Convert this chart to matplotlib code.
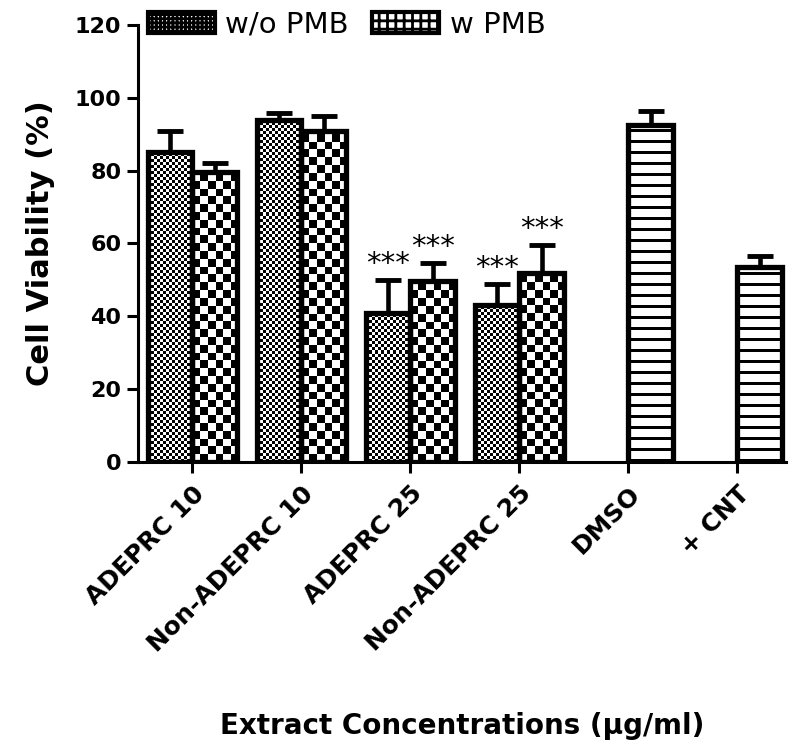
import numpy as np
import matplotlib
matplotlib.use("Agg")
import matplotlib.pyplot as plt
from matplotlib.patches import Patch

categories = ['ADEPRC 10', 'Non-ADEPRC 10', 'ADEPRC 25', 'Non-ADEPRC 25', 'DMSO', '+ CNT']
wo_mean = [85.0, 94.0, 41.0, 43.0]
wo_err = [6.0, 1.8, 9.0, 6.0]
w_mean = [79.5, 91.0, 49.7, 52.0]
w_err = [2.5, 4.0, 5.0, 7.5]
ctrl_mean = [92.5, 53.5]
ctrl_err = [4.0, 3.0]
star_groups = [2, 3]
star_text = '***'

plt.rcParams['font.family'] = 'DejaVu Sans'

fig = plt.figure(figsize=(8, 7.48), dpi=100)
ax = fig.add_axes([0.1725, 0.3824, 0.8105, 0.5842])
ax.set_xlim(-0.5, 5.45)
ax.set_ylim(0, 120)

bw = 0.41
x = np.arange(len(categories))
x_wo = x[:4] - bw / 2
x_w = x[:4] + bw / 2
x_ctrl = x[4:] + bw / 2

edge_lw = 3.8
bars_wo = ax.bar(x_wo, wo_mean, bw, facecolor='none', edgecolor='black', linewidth=edge_lw, zorder=3)
bars_w = ax.bar(x_w, w_mean, bw, facecolor='none', edgecolor='black', linewidth=edge_lw, zorder=3)
bars_c = ax.bar(x_ctrl, ctrl_mean, bw, facecolor='none', edgecolor='black', linewidth=edge_lw, zorder=3)

err_kw = dict(fmt='none', ecolor='black', elinewidth=3.3, capsize=9.5, capthick=3.5, zorder=2)
ax.errorbar(x_wo, wo_mean, yerr=[np.zeros(4), wo_err], **err_kw)
ax.errorbar(x_w, w_mean, yerr=[np.zeros(4), w_err], **err_kw)
ax.errorbar(x_ctrl, ctrl_mean, yerr=[np.zeros(2), ctrl_err], **err_kw)

# pixel scale for the textures
fig.canvas.draw()
p0 = ax.transData.transform((0, 0))
p1 = ax.transData.transform((1, 1))
px_x = p1[0] - p0[0]
px_y = p1[1] - p0[1]


def texture(bar, kind):
    x0, y0 = bar.get_x(), bar.get_y()
    w, h = bar.get_width(), bar.get_height()
    if kind == 'stripes':
        ny = int(np.ceil(h * px_y)) + 1
        rows = np.arange(ny)
        arr = ((rows % 11) < 3).astype(float)[:, None]
        ext = [x0, x0 + w, y0, y0 + ny / px_y]
    else:
        cell = 3.0 if kind == 'fine' else 7.8
        nx = int(np.ceil(w * px_x / cell)) + 1
        ny = int(np.ceil(h * px_y / cell)) + 1
        i, j = np.mgrid[0:ny, 0:nx]
        arr = ((i + j) % 2).astype(float)
        ext = [x0, x0 + nx * cell / px_x, y0, y0 + ny * cell / px_y]
    im = ax.imshow(arr, cmap='gray_r', vmin=0, vmax=1, extent=ext, origin='lower',
                   interpolation='nearest', aspect='auto', zorder=1)
    im.set_clip_path(bar)


for b in bars_wo:
    texture(b, 'fine')
for b in bars_w:
    texture(b, 'coarse')
for b in bars_c:
    texture(b, 'stripes')

ax.set_xlim(-0.5, 5.45)
ax.set_ylim(0, 120)

for g in star_groups:
    ax.text(x_wo[g], wo_mean[g] + wo_err[g] + 0.5, star_text, ha='center', va='bottom', fontsize=21)
    ax.text(x_w[g], w_mean[g] + w_err[g] + 0.5, star_text, ha='center', va='bottom', fontsize=21)

for s in ['top', 'right']:
    ax.spines[s].set_visible(False)
for s in ['left', 'bottom']:
    ax.spines[s].set_linewidth(2.2)

ax.set_yticks([0, 20, 40, 60, 80, 100, 120])
ax.set_xticks(x)
ax.set_xticklabels(categories, rotation=45, ha='right', rotation_mode='anchor',
                   fontsize=18, fontweight='bold')
ax.tick_params(axis='both', direction='out', length=8, width=2.2, pad=4)
ax.tick_params(axis='x', pad=6)
ax.tick_params(axis='y', labelsize=16)
for t in ax.get_yticklabels():
    t.set_fontweight('bold')

ax.set_ylabel('Cell Viability (%)', fontsize=22, fontweight='bold', labelpad=14)
fig.text(0.578, 0.03, 'Extract Concentrations (μg/ml)', ha='center', va='center',
         fontsize=20, fontweight='bold')

plt.rcParams['hatch.linewidth'] = 2.0
handles = [Patch(facecolor='white', edgecolor='black', linewidth=3, hatch='++++', label='w/o PMB'),
           Patch(facecolor='white', edgecolor='black', linewidth=3, hatch='++', label='w PMB')]
fig.legend(handles=handles, loc='center left', bbox_to_anchor=(0.185, 0.967), ncol=2,
           frameon=False, fontsize=21, handlelength=2.3, handleheight=0.75,
           handletextpad=0.35, columnspacing=0.8, borderpad=0, borderaxespad=0)

fig.savefig('out.png', dpi=100)
